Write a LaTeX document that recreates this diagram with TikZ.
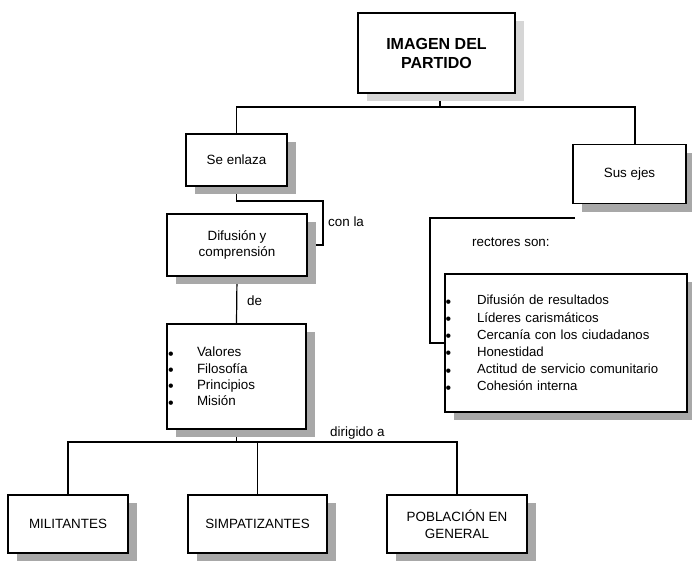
\documentclass[tikz,border=0pt]{standalone}
\usepackage{fontspec}
\setmainfont{Liberation Sans}
\usetikzlibrary{shadows}
\pgfdeclarelayer{background}
\pgfsetlayers{background,main}

% bullet mark followed by a fixed indent
\newcommand\bul[1]{\makebox[#1][l]{\raisebox{-0.35ex}[0pt][0pt]{\fontsize{16}{16}\selectfont\textbullet}}}

\tikzset{
  box/.style={draw=black, line width=1.3pt, fill=white, inner sep=0pt,
    align=center, font=\fontsize{13.4}{16.6}\selectfont,
    drop shadow={opacity=1, fill=#1, shadow xshift=9pt, shadow yshift=-8pt}},
  box/.default=gray!68,
  link/.style={draw=black, line width=1.2pt},
  lbl/.style={anchor=west, inner sep=0pt, font=\fontsize{13.4}{16}\selectfont},
}

\begin{document}
\begin{tikzpicture}[x=1pt, y=-1pt]
  \useasboundingbox (0,0) rectangle (692,562);

  % boxes
  \node[box=gray!32, minimum width=157pt, minimum height=80pt,
        font=\bfseries\fontsize{16}{19}\selectfont]
        (top) at (436.5,53) {IMAGEN DEL\\PARTIDO};
  \node[box, minimum width=101pt, minimum height=52pt] (enlaza) at (236.5,160) {Se enlaza};
  \node[box, minimum width=113pt, minimum height=59pt] (ejes) at (629.5,174) {Sus ejes};
  \node[box, minimum width=140pt, minimum height=62pt] (difusion) at (237,245) {Difusión y\\comprensión};
  \node[box, minimum width=139pt, minimum height=105pt, text width=137pt,
        inner xsep=1pt, align=left, font=\fontsize{13.4}{16.4}\selectfont]
        (valores) at (236.5,376.5)
        {\bul{29pt}Valores\\\bul{29pt}Filosofía\\\bul{29pt}Principios\\\bul{29pt}Misión};

  % frame of the "rectores" block, partly hidden behind the list
  \draw[link] (575,218) -- (430,218) -- (430,343) -- (445,343);
  \node[lbl] (rectores) at (472,242) {rectores son:};

  \node[box, minimum width=242pt, minimum height=138pt, text width=241pt,
        inner xsep=0.5pt, align=left, font=\fontsize{13.2}{17.2}\selectfont]
        (lista) at (566,343)
        {\bul{31.5pt}Difusión de resultados\\
         \bul{31.5pt}Líderes carismáticos\\
         \bul{31.5pt}Cercanía con los ciudadanos\\
         \bul{31.5pt}Honestidad\\
         \bul{31.5pt}Actitud de servicio comunitario\\
         \bul{31.5pt}Cohesión interna};

  \node[box, minimum width=120pt, minimum height=58pt] (militantes) at (68,524) {MILITANTES};
  \node[box, minimum width=139pt, minimum height=58pt] (simpat) at (257.5,524) {SIMPATIZANTES};
  \node[box, minimum width=140pt, minimum height=58pt] (poblacion) at (457,524) {POBLACIÓN EN\\GENERAL};

  % connector labels
  \node[lbl] (conla) at (328,222) {con la};
  \node[lbl] (de) at (247,301) {de};
  \node[lbl] (dirigido) at (330,433) {dirigido a};

  % connectors, kept beneath boxes and shadows
  \begin{pgfonlayer}{background}
    \coordinate (stem) at (440,107);
    \coordinate (busR) at (635,107);
    \coordinate (elbow) at (323,201);
    \coordinate (busB) at (68,442);
    \draw[link] (top.south -| stem) -- (stem);
    \draw[link] (enlaza.north) |- (busR) -- (busR |- ejes.north);
    \draw[link] (enlaza.south) |- (elbow) |- (difusion.east);
    \draw[link] (difusion.south) -- (valores.north);
    \draw[link] (valores.south) -- (valores.south |- busB);
    \draw[link] (militantes.north) -- (busB) -- (poblacion.north |- busB) -- (poblacion.north);
    \draw[link] (simpat.north) -- (simpat.north |- busB);
  \end{pgfonlayer}
\end{tikzpicture}
\end{document}
